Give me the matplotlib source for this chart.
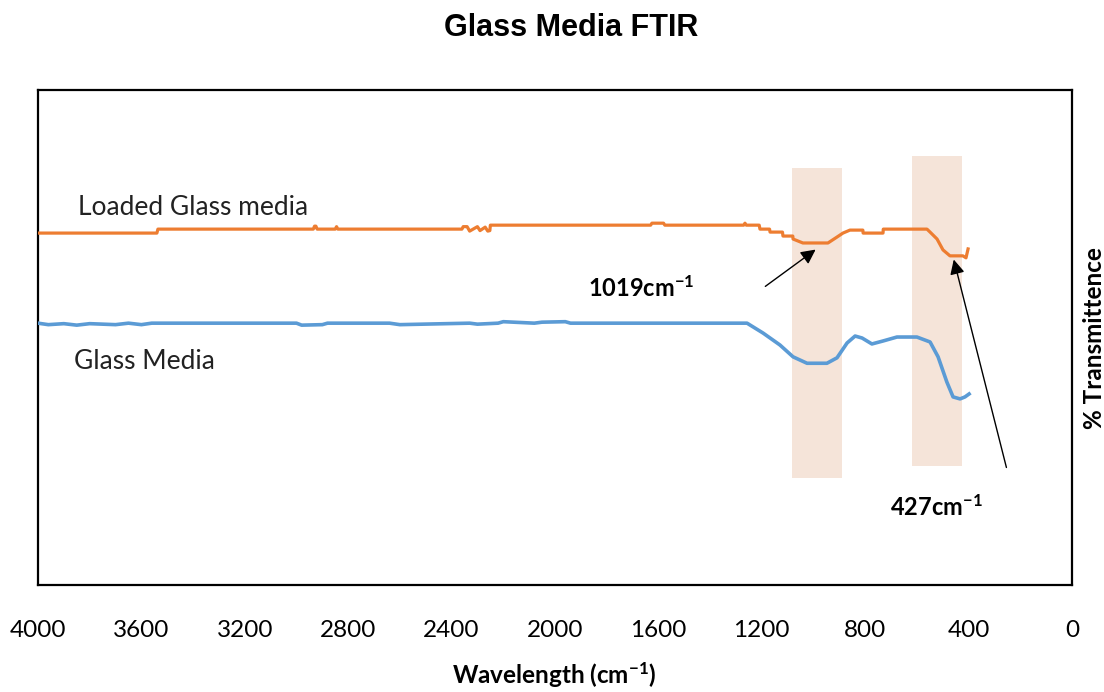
import matplotlib
matplotlib.use("Agg")
import matplotlib.pyplot as plt
from matplotlib.patches import Rectangle

plt.rcParams['font.family'] = ['Lato', 'DejaVu Sans']
plt.rcParams['mathtext.default'] = 'regular'

# wavenumber (cm-1) / transmittance pairs
loaded_x = [4000, 3540, 3536, 2935, 2930, 2925, 2920, 2850, 2845, 2840, 2360, 2355, 2340, 2330,
            2300, 2290, 2270, 2260, 2252, 2250, 1630, 1625, 1580, 1575, 1270, 1265, 1260,
            1210, 1207, 1170, 1168, 1120, 1118, 1080, 1079, 1041, 944, 909, 886, 859, 809,
            808, 731, 730, 561, 549, 522, 499, 472, 422, 410, 402]
loaded_y = [71.1, 71.1, 71.9, 71.9, 72.5, 72.5, 71.9, 71.9, 72.4, 71.9, 71.9, 72.4, 72.4, 71.5,
            72.4, 71.6, 72.3, 71.5, 71.6, 72.7, 72.7, 73.1, 73.1, 72.7, 72.7, 73.1, 72.7,
            72.7, 71.9, 71.9, 71.3, 71.3, 70.5, 70.5, 69.9, 69.1, 69.1, 70.3, 71.1, 71.7, 71.7,
            71.1, 71.1, 71.9, 71.9, 71.3, 69.9, 67.7, 66.5, 66.5, 66.1, 67.9]

glass_x = [4000, 3960, 3900, 3850, 3800, 3700, 3650, 3600, 3560, 3000, 2980, 2900, 2880,
           2640, 2600, 2330, 2300, 2220, 2200, 2080, 2050, 1960, 1940, 1265, 1257, 1195,
           1130, 1079, 1025, 948, 909, 870, 839, 812, 774, 731, 677, 600, 549, 518, 484,
           460, 433, 414, 398]
glass_y = [52.9, 52.6, 52.8, 52.5, 52.8, 52.6, 52.9, 52.6, 52.9, 52.9, 52.5, 52.6, 52.9,
           52.9, 52.6, 52.9, 52.7, 52.9, 53.2, 52.9, 53.1, 53.2, 52.9, 52.9, 52.9, 50.9,
           48.5, 46.1, 44.8, 44.8, 45.9, 48.9, 50.3, 49.9, 48.7, 49.3, 50.1, 50.1, 49.1, 46.1,
           41.0, 38.0, 37.6, 38.0, 38.6]

# highlighted absorption bands: (high wavenumber, low wavenumber, bottom, top)
bands = [(1083, 890, 21.6, 84.2), (619, 425, 24.0, 86.7)]
x_ticks = [4000, 3600, 3200, 2800, 2400, 2000, 1600, 1200, 800, 400, 0]

fig = plt.figure(figsize=(11.04, 6.92), dpi=100)
ax = fig.add_axes([0.0344, 0.1546, 0.9366, 0.7153])

for hi, lo, b, t in bands:
    ax.add_patch(Rectangle((lo, b), hi - lo, t - b, facecolor='#F5E4D9', edgecolor='none', zorder=1))

ax.plot(loaded_x, loaded_y, color='#ED7D31', lw=2.3, zorder=3)
ax.plot(glass_x, glass_y, color='#5B9BD5', lw=2.6, zorder=3)

ax.set_xlim(4000, 0)
ax.set_ylim(0, 100)
ax.set_xticks(x_ticks)
ax.set_xticklabels([str(v) for v in x_ticks])
ax.set_yticks([])
ax.tick_params(axis='x', length=0, pad=25, labelsize=17.5)
for s in ax.spines.values():
    s.set_linewidth(1.6)
    s.set_color('black')

ax.text(3845, 76.2, 'Loaded Glass media', fontsize=19, va='center', ha='left', color='#222222')
ax.text(3861, 45.1, 'Glass Media', fontsize=19, va='center', ha='left', color='#222222')

arrow = dict(arrowstyle='-|>', color='black', lw=1.0, mutation_scale=22)
ax.annotate('', xy=(983, 68.1), xytext=(1195, 60.0), arrowprops=arrow, zorder=4)
ax.annotate('', xy=(460, 66.3), xytext=(251, 23.2), arrowprops=arrow, zorder=4)
ax.text(1872, 60.0, '1019cm$^{-1}$', fontsize=17, fontweight='bold', va='center', ha='left')
ax.text(704, 15.8, '427cm$^{-1}$', fontsize=17, fontweight='bold', va='center', ha='left')

fig.text(0.517, 0.959, 'Glass Media FTIR', fontsize=22, fontweight='bold',
         family='Liberation Sans', ha='center', va='center')
fig.text(0.502, 0.025, 'Wavelength (cm$^{-1}$)', fontsize=17.5, fontweight='bold',
         ha='center', va='center')
fig.text(0.991, 0.511, '% Transmittence', fontsize=17.5, fontweight='bold', rotation=90,
         ha='center', va='center')

fig.savefig('out.png', dpi=100)
